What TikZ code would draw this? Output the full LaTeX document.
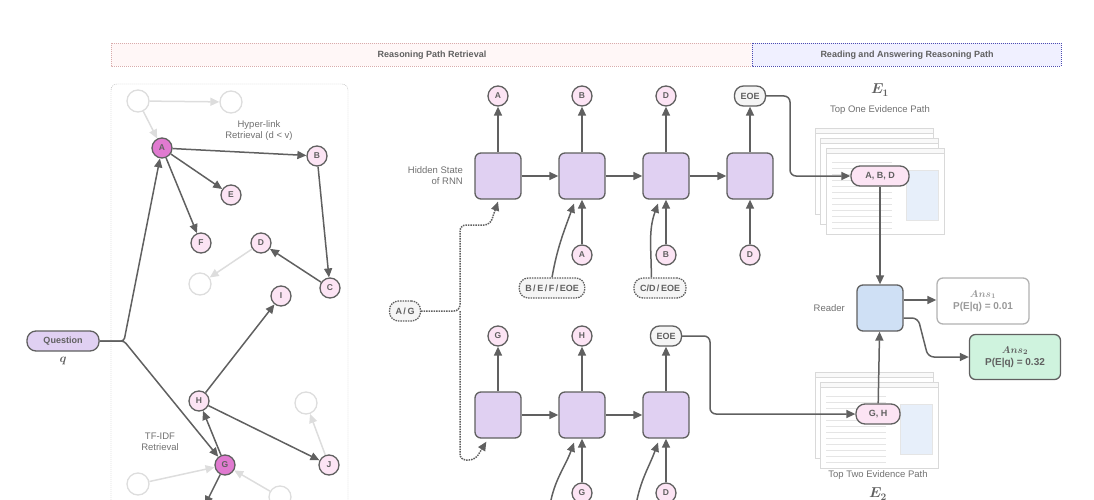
\documentclass[tikz,border=0pt]{standalone}
\usepackage{amsmath}
\usepackage{bm}
\usepackage{fontspec}
\setmainfont{Liberation Sans}
\usetikzlibrary{positioning, arrows.meta, calc}
\definecolor{edge}{HTML}{606060}
\definecolor{nodepink}{HTML}{FCE4F4}
\definecolor{hotpink}{HTML}{E07AD0}
\definecolor{rnnfill}{HTML}{E0D0F2}
\definecolor{readfill}{HTML}{CFE0F5}
\definecolor{ansgreen}{HTML}{CFF3DE}
\definecolor{ghost}{HTML}{DDDDDD}
\tikzset{
  ent/.style={circle, draw=edge, line width=1.3pt, fill=nodepink, minimum size=20pt, inner sep=0pt, font=\fontsize{8.5}{8.5}\selectfont\bfseries, text=edge},
  ghostnode/.style={circle, draw=ghost, line width=1.3pt, fill=white, minimum size=22pt},
  hid/.style={draw=edge, line width=1.3pt, fill=rnnfill, rounded corners=6pt, minimum size=46pt},
  pill/.style={draw=edge, line width=1.3pt, rounded corners=9pt, minimum height=20pt, inner xsep=6pt, font=\fontsize{9}{9}\selectfont\bfseries, text=edge},
  cand/.style={pill, dashed, dash pattern=on 1.5pt off 1pt, fill=gray!8},
  arr/.style={-{Triangle[length=9pt,width=8pt]}, draw=edge, line width=1.5pt},
  garr/.style={-{Triangle[length=9pt,width=8pt]}, draw=ghost, line width=1.5pt},
  note/.style={font=\fontsize{9.5}{11}\selectfont, text=edge!90, align=center},
}
\newcommand{\docpage}[2]{%
  \draw[gray!30, fill=white] (#1,#2) rectangle ++(118,86);
  \draw[gray!30, fill=gray!5] (#1,#2) rectangle ++(118,5);
  \foreach \k in {14,20,...,80} {\draw[gray!20, line width=0.8pt] ($(#1,#2)+(6,\k)$) -- ++(60,0);}
  \draw[gray!20, fill=readfill!50] ($(#1,#2)+(80,22)$) rectangle ++(32,50);
}
\begin{document}
\begin{tikzpicture}[x=1pt, y=-1pt]
\useasboundingbox (0,0) rectangle (1094,500);
% banners
\draw[pink!70!gray, dash pattern=on 1pt off 1pt, fill=pink!12] (111,43) rectangle (752,66);
\draw[blue!40!gray, dash pattern=on 1pt off 1pt, fill=blue!6] (752,43) rectangle (1061,66);
\node[font=\fontsize{9}{9}\selectfont\bfseries, text=edge] (ttl1) at (432,55) {Reasoning Path Retrieval};
\node[font=\fontsize{9}{9}\selectfont\bfseries, text=edge] (ttl2) at (907,55) {Reading and Answering Reasoning Path};
% retrieval graph
\draw[gray!70, dash pattern=on 1pt off 1pt, rounded corners=6pt] (111,540) |- (348,84) -- (348,540);
\node[pill, fill=rnnfill, minimum width=72pt] (quest) at (63,341) {Question};
\node[below=2pt of quest, font=\large, text=edge] (qsym) {$\bm{q}$};
\foreach \nm/\x/\y in {g1/138/101, g2/231/102, g3/200/284, g4/306/403, g5/138/484, g6/280/497}
  \node[ghostnode] (\nm) at (\x,\y) {};
\node[ent, fill=hotpink] (nA) at (162,148) {A};
\node[ent] (nB) at (317,156) {B};
\node[ent] (nE) at (231,195) {E};
\node[ent] (nF) at (201,243) {F};
\node[ent] (nD) at (261,243) {D};
\node[ent] (nC) at (330,288) {C};
\node[ent] (nI) at (281,296) {I};
\node[ent] (nH) at (199,401) {H};
\node[ent] (nJ) at (329,465) {J};
\node[ent, fill=hotpink] (nG) at (225,465) {G};
\coordinate (fork) at (124,341);
\coordinate (gout) at (205,505);
\draw[garr] (g1) -- (g2);
\draw[garr] (g1) -- (nA);
\draw[garr] (nD) -- (g3);
\draw[garr] (nJ) -- (g4);
\draw[garr] (g5) -- (nG);
\draw[garr] (g6) -- (nG);
\draw[arr, rounded corners=3pt] (quest) -- (fork) -- (nA);
\draw[arr, rounded corners=3pt] (quest) -- (fork) -- (nG);
\draw[arr] (nA) -- (nB);
\draw[arr] (nA) -- (nE);
\draw[arr] (nA) -- (nF);
\draw[arr] (nB) -- (nC);
\draw[arr] (nC) -- (nD);
\draw[arr] (nH) -- (nI);
\draw[arr] (nH) -- (nJ);
\draw[arr] (nG) -- (nH);
\draw[arr] (nG) -- (gout);
\node[note] (hyp) at (259,131) {Hyper-link\\Retrieval (d < v)};
\node[note] (tfidf) at (160,442) {TF-IDF\\Retrieval};
% recurrent retriever
\foreach \i/\x in {1/498, 2/582, 3/666, 4/750} \node[hid] (up\i) at (\x,176) {};
\foreach \i/\x in {1/498, 2/582, 3/666} \node[hid] (lo\i) at (\x,415) {};
\node[note, align=right, left=8pt of up1] (hstate) {Hidden State\\of RNN};
\node[ent] (oA) at (498,96) {A};
\node[ent] (oB) at (582,96) {B};
\node[ent] (oD) at (666,96) {D};
\node[pill, fill=gray!8] (oE) at (750,96) {EOE};
\node[ent] (oG) at (498,336) {G};
\node[ent] (oH) at (582,336) {H};
\node[pill, fill=gray!8] (oE2) at (666,336) {EOE};
\node[ent] (iA) at (582,255) {A};
\node[ent] (iB) at (666,255) {B};
\node[ent] (iD) at (750,255) {D};
\node[ent] (iG) at (582,493) {G};
\node[ent] (iD2) at (666,493) {D};
\node[cand] (c1) at (552,288) {B\,/\,E\,/\,F\,/\,EOE};
\node[cand] (c2) at (660,288) {C/D\,/\,EOE};
\node[cand] (cAG) at (405,311) {A\,/\,G};
\foreach \a/\b in {up1/oA, up2/oB, up3/oD, up4/oE, lo1/oG, lo2/oH, lo3/oE2, iA/up2, iB/up3, iD/up4, iG/lo2, iD2/lo3, up1/up2, up2/up3, up3/up4, lo1/lo2, lo2/lo3}
  \draw[arr] (\a) -- (\b);
\coordinate (up2in) at ($(up2.south)+(-8,4)$);
\coordinate (up3in) at ($(up3.south)+(-8,4)$);
\coordinate (lo2in) at ($(lo2.south)+(-8,4)$);
\coordinate (lo3in) at ($(lo3.south)+(-8,4)$);
\draw[arr] (c1.north) to[out=80, in=-110] (up2in);
\draw[arr] (c2.north west) ++(18,0) to[out=90, in=-110] (up3in);
\draw[arr] (550,505) to[out=80, in=-110] (lo2in);
\draw[arr] (636,505) to[out=80, in=-110] (lo3in);
\coordinate (brace) at (460,311);
\draw[arr, dash pattern=on 1.5pt off 1pt, rounded corners=6pt] (cAG) -- (brace) |- (490,225) -- ($(up1.south)+(0,2)$);
\draw[arr, dash pattern=on 1.5pt off 1pt, rounded corners=6pt] (brace) |- (475,460) -- ($(lo1.south west)+(12,3)$);
% evidence paths and reader
\docpage{815}{128}
\docpage{820}{138}
\docpage{826}{148}
\docpage{815}{372}
\docpage{820}{382}
\node[pill, fill=nodepink, minimum width=58pt] (pABD) at (880,176) {A, B, D};
\node[pill, fill=nodepink, minimum width=44pt] (pGH) at (878,414) {G, H};
\node[font=\Large, text=edge] (e1) at (880,90) {$\bm{E_1}$};
\node[note] (top1) at (880,110) {Top One Evidence Path};
\node[note] (top2) at (878,475) {Top Two Evidence Path};
\node[font=\Large, text=edge] (e2) at (878,494) {$\bm{E_2}$};
\node[hid, fill=readfill] (reader) at (880,308) {};
\node[note, left=8pt of reader] (rdlbl) {Reader};
\node[draw=gray!60, line width=1.3pt, rounded corners=6pt, minimum width=92pt, minimum height=46pt, fill=white, align=center, text=gray!80, font=\fontsize{10}{12}\selectfont\bfseries] (ans1) at (983,301) {$\bm{Ans_1}$\\P(E|q) = 0.01};
\node[draw=edge, line width=1.3pt, rounded corners=6pt, minimum width=91pt, minimum height=45pt, fill=ansgreen, align=center, text=edge, font=\fontsize{10}{12}\selectfont\bfseries] (ans2) at (1015,357) {$\bm{Ans_2}$\\P(E|q) = 0.32};
\draw[arr, rounded corners=6pt] (oE.east) -| (790,176) -- (pABD);
\draw[arr, rounded corners=6pt] (oE2.east) -| (710,414) -- (pGH);
\draw[arr] (pABD) -- (reader);
\draw[arr] (pGH) -- (reader);
\draw[arr] ($(reader.east)+(0,-8)$) -- (ans1.west |- 0,300);
\draw[arr, rounded corners=6pt] ($(reader.east)+(0,10)$) -- (918,318) -- (928,357) -- (ans2.west);
\end{tikzpicture}
\end{document}
